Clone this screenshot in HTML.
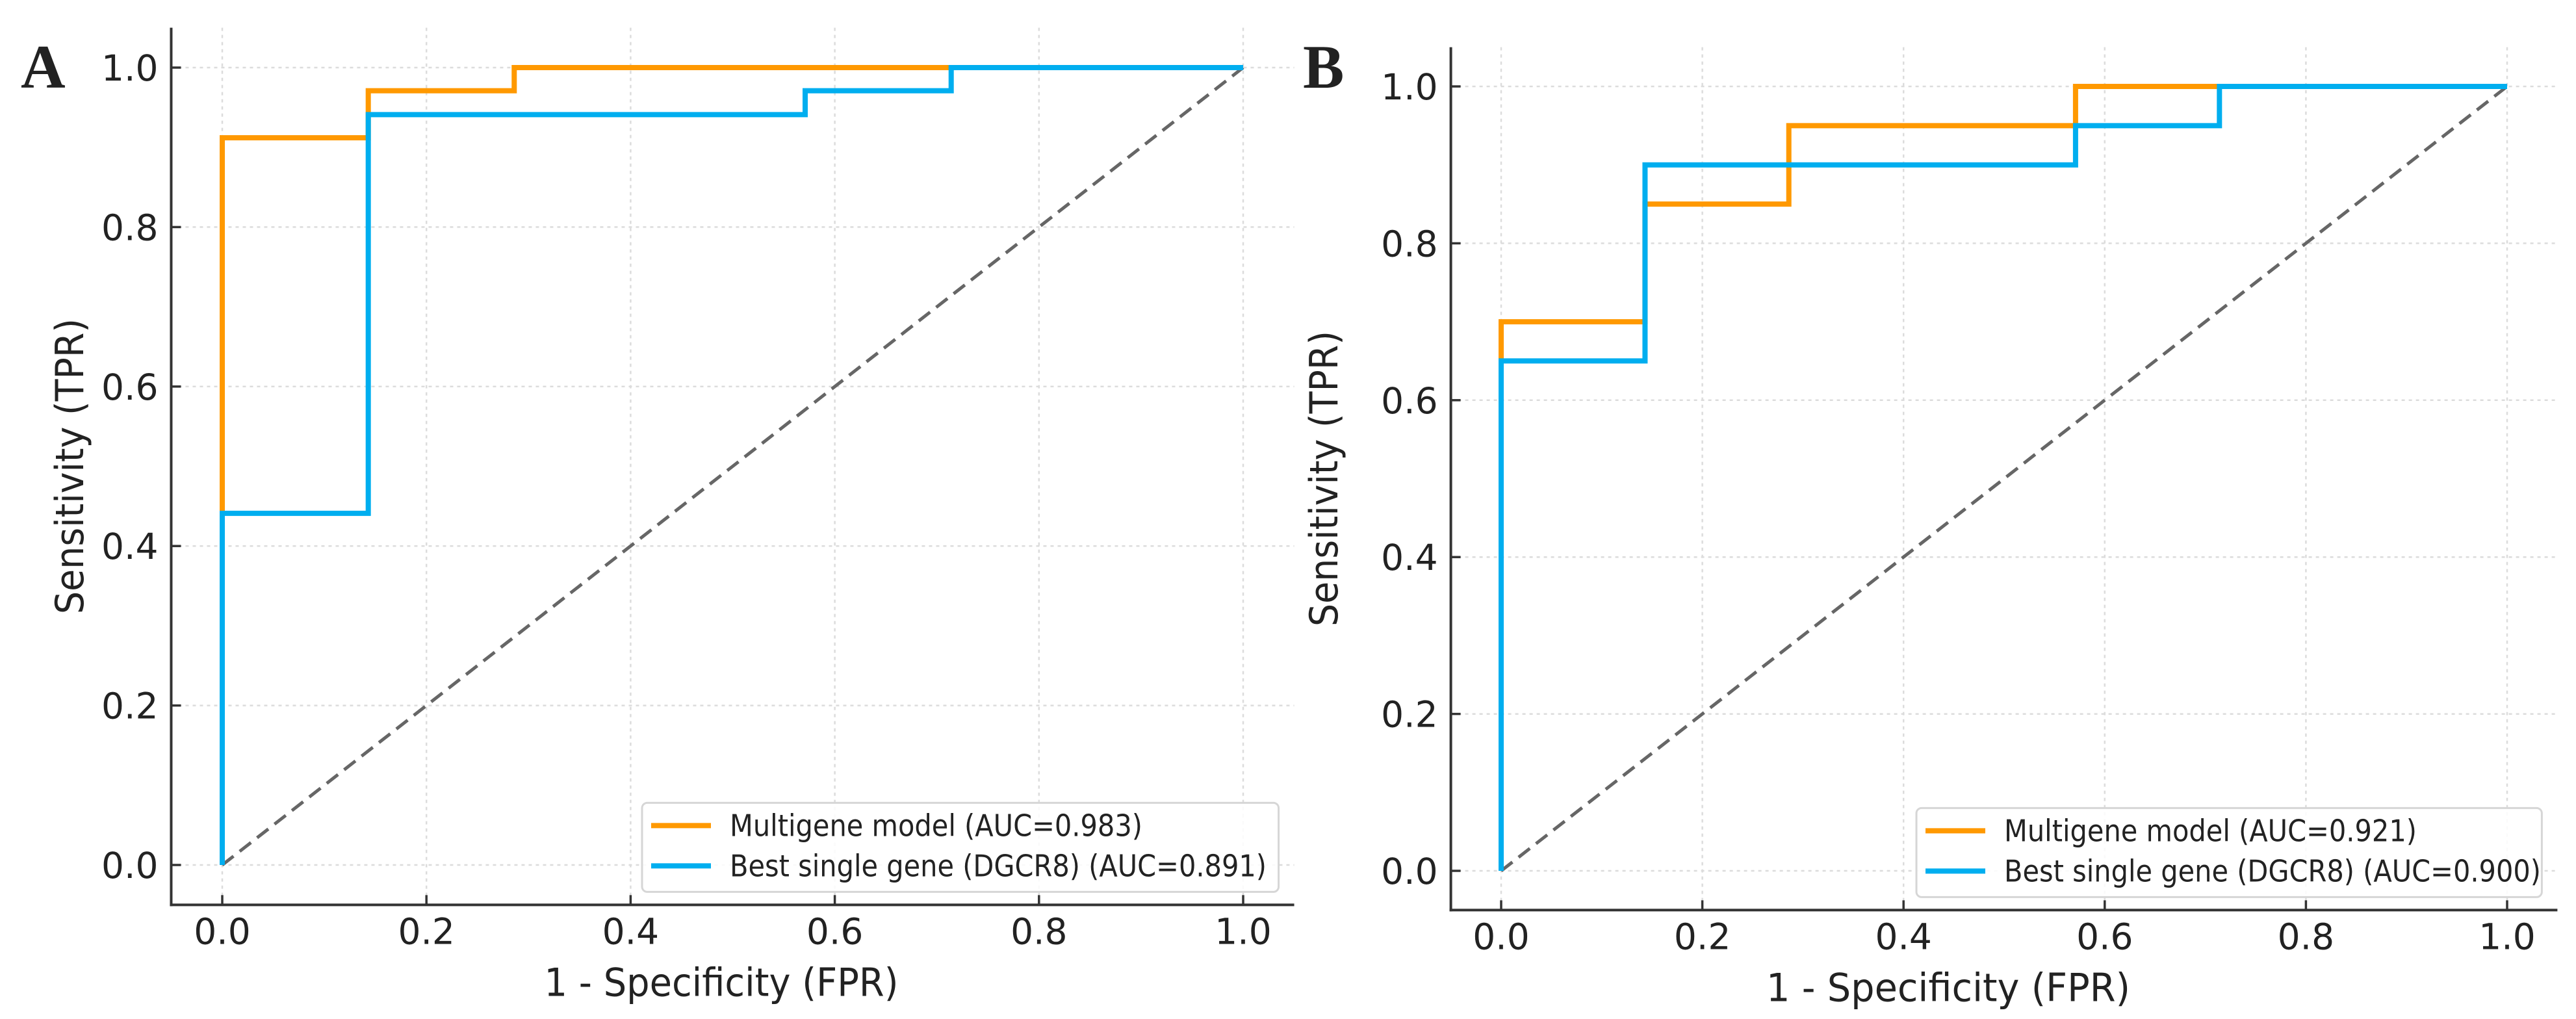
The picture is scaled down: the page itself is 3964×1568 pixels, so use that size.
<!DOCTYPE html>
<html><head><meta charset="utf-8"><style>
html,body{margin:0;padding:0;background:#fff;}
svg{display:block;}
text{font-family:"DejaVu Sans","Liberation Sans",sans-serif;fill:#222;}
</style></head>
<body>
<svg id="fig" width="3964" height="1568" viewBox="0 0 3964 1568" xmlns="http://www.w3.org/2000/svg"></svg>
<script>
const xTicks = [0, 0.2, 0.4, 0.6, 0.8, 1.0];
const yTicks = [0, 0.2, 0.4, 0.6, 0.8, 1.0];
const tickLabels = ["0.0", "0.2", "0.4", "0.6", "0.8", "1.0"];
// Panel A
const aMultiFpr = [0, 0, 0.143, 0.143, 0.286, 0.286, 1];
const aMultiTpr = [0, 0.912, 0.912, 0.971, 0.971, 1, 1];
const aSingleFpr = [0, 0, 0.143, 0.143, 0.571, 0.571, 0.714, 0.714, 1];
const aSingleTpr = [0, 0.441, 0.441, 0.941, 0.941, 0.971, 0.971, 1, 1];
const aLegend = ["Multigene model (AUC=0.983)", "Best single gene (DGCR8) (AUC=0.891)"];
// Panel B
const bMultiFpr = [0, 0, 0.143, 0.143, 0.286, 0.286, 0.571, 0.571, 1];
const bMultiTpr = [0, 0.70, 0.70, 0.85, 0.85, 0.95, 0.95, 1, 1];
const bSingleFpr = [0, 0, 0.143, 0.143, 0.571, 0.571, 0.714, 0.714, 1];
const bSingleTpr = [0, 0.65, 0.65, 0.90, 0.90, 0.95, 0.95, 1, 1];
const bLegend = ["Multigene model (AUC=0.921)", "Best single gene (DGCR8) (AUC=0.900)"];

const NS = "http://www.w3.org/2000/svg";
const svg = document.getElementById("fig");
function mk(tag, attrs, parent) {
  const e = document.createElementNS(NS, tag);
  for (const k in attrs) e.setAttribute(k, attrs[k]);
  (parent || svg).appendChild(e);
  return e;
}

function panel(cfg) {
  const g = mk("g", {});
  
  
  const sx = v => cfg.x0 + v * (cfg.x1 - cfg.x0);
  const sy = v => cfg.y0 + v * (cfg.y1 - cfg.y0);
  const left = sx(-0.05), right = sx(1.05), bottom = sy(-0.05), top = sy(1.05);
  // grid
  xTicks.forEach(t => {
    const l = mk("line", {x1: sx(t), x2: sx(t), y1: top, y2: bottom, stroke: "#dcdcdc", "stroke-width": 2.5, "stroke-dasharray": "5 6"}, g);
    
    
  });
  yTicks.forEach(t => {
    const l = mk("line", {x1: left, x2: right, y1: sy(t), y2: sy(t), stroke: "#dcdcdc", "stroke-width": 2.5, "stroke-dasharray": "5 6"}, g);
    
    
  });
  // diagonal
  const d = mk("line", {x1: sx(0), y1: sy(0), x2: sx(1), y2: sy(1), stroke: "#666", "stroke-width": 5, "stroke-dasharray": "22 12"}, g);
  
  
  // curves
  function curve(fx, ty, color, name) {
    const pts = fx.map((v, i) => sx(v).toFixed(1) + "," + sy(ty[i]).toFixed(1)).join(" ");
    const p = mk("polyline", {points: pts, fill: "none", stroke: color, "stroke-width": 8, "stroke-linejoin": "miter"}, g);
    
    
  }
  curve(cfg.mf, cfg.mt, "#ff9900", "multigene-roc-curve");
  curve(cfg.sf, cfg.st, "#00aeef", "single-gene-roc-curve");
  // spines
  const sl = mk("line", {x1: left, x2: left, y1: top, y2: bottom + 2, stroke: "#333", "stroke-width": 4}, g);
  
  
  const sb = mk("line", {x1: left - 2, x2: right, y1: bottom, y2: bottom, stroke: "#333", "stroke-width": 4}, g);
  
  
  // ticks
  xTicks.forEach((t, i) => {
    const tk = mk("line", {x1: sx(t), x2: sx(t), y1: bottom, y2: bottom - 15, stroke: "#333", "stroke-width": 3.5}, g);
    
    
    const tx = mk("text", {x: sx(t), y: bottom + 60, "font-size": 55, "text-anchor": "middle"}, g);
    tx.textContent = tickLabels[i];
    
    
  });
  yTicks.forEach((t, i) => {
    const tk = mk("line", {x1: left, x2: left + 15, y1: sy(t), y2: sy(t), stroke: "#333", "stroke-width": 3.5}, g);
    
    
    const tx = mk("text", {x: left - 20, y: sy(t) + 20, "font-size": 55, "text-anchor": "end"}, g);
    tx.textContent = tickLabels[i];
    
    
  });
  // axis titles
  const xt = mk("text", {x: cfg.xlx, y: bottom + 140, "font-size": 60, "text-anchor": "middle", textLength: cfg.xlw, lengthAdjust: "spacingAndGlyphs"}, g);
  xt.textContent = "1 - Specificity (FPR)";
  
  
  const yt = mk("text", {x: 0, y: 0, "font-size": 60, "text-anchor": "middle", textLength: 455, lengthAdjust: "spacingAndGlyphs", transform: `translate(${cfg.ylx},${(top + bottom) / 2}) rotate(-90)`}, g);
  yt.textContent = "Sensitivity (TPR)";
  
  
  // panel letter
  const pl = mk("text", {x: cfg.lx, y: 135, "font-size": 95, "font-weight": "bold", style: "font-family:'Liberation Serif',serif"}, g);
  pl.textContent = cfg.letter;
  
  
  // legend
  const lr = right - 24, lb = bottom - 20, lt = lb - 137, ll = cfg.legLeft;
  const lg = mk("g", {}, g);
  
  
  mk("rect", {x: ll, y: lt, width: lr - ll, height: lb - lt, rx: 8, fill: "#fff", "fill-opacity": 0.85, stroke: "#d6d6d6", "stroke-width": 3}, lg);
  const colors = ["#ff9900", "#00aeef"];
  const widths = [635, 826];
  cfg.legend.forEach((s, i) => {
    const yy = lt + 35 + i * 62;
    const entry = mk("g", {}, lg);
    
    
    mk("line", {x1: ll + 14, x2: ll + 106, y1: yy, y2: yy, stroke: colors[i], "stroke-width": 8}, entry);
    const t = mk("text", {x: ll + 135, y: yy + 16, "font-size": 46, textLength: widths[i], lengthAdjust: "spacingAndGlyphs"}, entry);
    t.textContent = s;
  });
}

panel({name: "panel-a", letter: "A", lx: 32, x0: 342, x1: 1913, y0: 1331, y1: 104,
  mf: aMultiFpr, mt: aMultiTpr, sf: aSingleFpr, st: aSingleTpr, legend: aLegend,
  legLeft: 988, xlx: 1110, xlw: 545, ylx: 128});
panel({name: "panel-b", letter: "B", lx: 2005, x0: 2310, x1: 3858, y0: 1340, y1: 133,
  mf: bMultiFpr, mt: bMultiTpr, sf: bSingleFpr, st: bSingleTpr, legend: bLegend,
  legLeft: 2949, xlx: 2998, xlw: 560, ylx: 2058});
</script>
</body></html>
